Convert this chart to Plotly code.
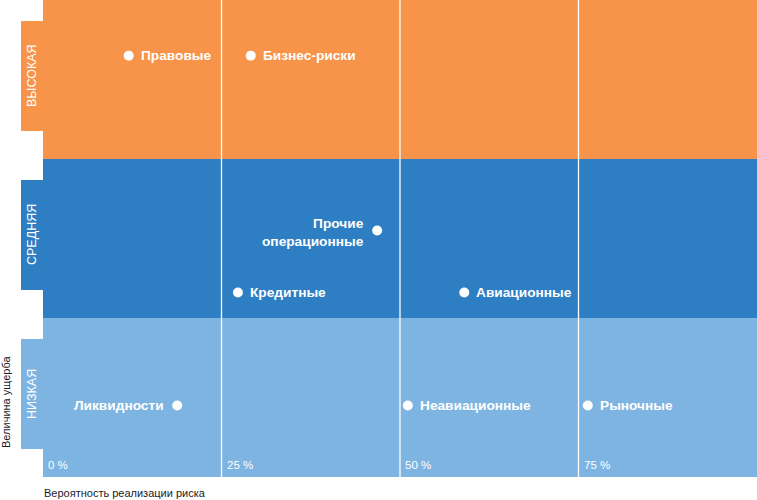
import plotly.graph_objects as go

# ---- data ----
risk_names = ["Правовые", "Бизнес-риски", "Прочие<br>операционные", "Кредитные",
              "Авиационные", "Ликвидности", "Неавиационные", "Рыночные"]
probability = [12.0, 29.1, 46.8, 27.3, 59.0, 18.8, 51.1, 76.3]   # %
damage = [2.65, 2.65, 1.55, 1.16, 1.16, 0.45, 0.45, 0.45]        # level scale 0..3
label_side = ["right", "right", "left", "right", "right", "left", "right", "right"]

levels = ["НИЗКАЯ", "СРЕДНЯЯ", "ВЫСОКАЯ"]
level_colors = ["#7EB4E2", "#2E7EC3", "#F79449"]

x_ticks = [0, 25, 50, 75]
x_ticktext = ["0 %", "25 %", "50 %", "75 %"]

x_title = "Вероятность реализации риска"
y_title = "Величина ущерба"

FONT = "Liberation Sans, Arial, sans-serif"

fig = go.Figure()

shapes = []
annotations = []
for i, (lvl, col) in enumerate(zip(levels, level_colors)):
    shapes.append(dict(type="rect", xref="x", yref="y", x0=0, x1=100, y0=i, y1=i + 1,
                       fillcolor=col, line=dict(width=0), layer="below"))
    top = i + 1 - 0.132
    bot = top - 0.692
    shapes.append(dict(type="rect", xref="paper", yref="y", x0=-22 / 714, x1=0.001,
                       y0=bot, y1=top, fillcolor=col, line=dict(width=0), layer="below"))
    annotations.append(dict(xref="paper", yref="y", x=-11 / 714, y=(top + bot) / 2,
                            text=lvl, textangle=-90, showarrow=False,
                            font=dict(family=FONT, size=12.5, color="white"),
                            xanchor="center", yanchor="middle"))

for xv in x_ticks[1:]:
    shapes.append(dict(type="line", xref="x", yref="y", x0=xv, x1=xv, y0=0, y1=3,
                       line=dict(color="white", width=1.3), layer="below"))

for xv, txt in zip(x_ticks, x_ticktext):
    annotations.append(dict(xref="x", yref="paper", x=xv, y=12 / 477, text=txt,
                            showarrow=False, xanchor="left", yanchor="middle", xshift=3,
                            font=dict(family=FONT, size=11.5, color="white")))

annotations.append(dict(xref="paper", yref="paper", x=-1 / 714, y=-16 / 477, text=x_title,
                        showarrow=False, xanchor="left", yanchor="middle",
                        font=dict(family=FONT, size=11, color="#1b1b2a")))
annotations.append(dict(xref="paper", yref="paper", x=-37 / 714, y=75 / 477, text=y_title,
                        showarrow=False, xanchor="center", yanchor="middle", textangle=-90,
                        font=dict(family=FONT, size=11, color="#1b1b2a")))

# point labels
for name, xv, yv, side in zip(risk_names, probability, damage, label_side):
    annotations.append(dict(xref="x", yref="y", x=xv, y=yv, text=name, showarrow=False,
                            xanchor="left" if side == "right" else "right",
                            align="left" if side == "right" else "right",
                            yanchor="middle",
                            xshift=10 if side == "right" else -11,
                            yshift=-2 if "<br>" in name else 0,
                            font=dict(family=FONT, size=13.7, color="white", weight="bold")))

fig.add_trace(go.Scatter(
    x=probability, y=damage, mode="markers",
    marker=dict(color="white", size=10, line=dict(width=0)),
    cliponaxis=False, hovertext=risk_names, hoverinfo="text",
))

fig.update_layout(
    width=757, height=500,
    margin=dict(l=43, r=0, t=0, b=23),
    paper_bgcolor="white", plot_bgcolor="white",
    showlegend=False,
    shapes=shapes, annotations=annotations,
    xaxis=dict(range=[0, 100], showgrid=False, zeroline=False, showticklabels=False,
               ticks="", showline=False, fixedrange=True),
    yaxis=dict(range=[0, 3], showgrid=False, zeroline=False, showticklabels=False,
               ticks="", showline=False, fixedrange=True),
)

fig.write_html("out.html", config={"displayModeBar": False},
               post_script="document.body.style.margin='0';document.body.style.overflow='hidden';")
